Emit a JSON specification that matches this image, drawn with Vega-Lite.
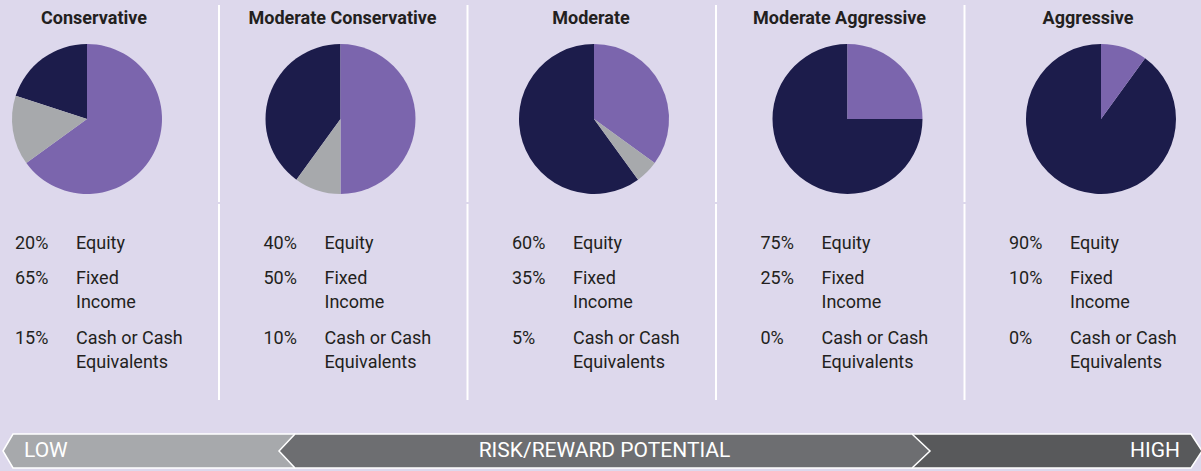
{
  "$schema": "https://vega.github.io/schema/vega-lite/v6.json",
  "background": "#DDD8EC",
  "padding": {"left": 0, "top": 4, "right": 0, "bottom": 0},
  "config": {"view": {"stroke": null}, "font": "Roboto"},
  "datasets": {
    "alloc": [
      {"profile": "Conservative", "asset": "Equity", "pct": 20},
      {"profile": "Conservative", "asset": "Fixed Income", "pct": 65},
      {"profile": "Conservative", "asset": "Cash or Cash Equivalents", "pct": 15},
      {"profile": "Moderate Conservative", "asset": "Equity", "pct": 40},
      {"profile": "Moderate Conservative", "asset": "Fixed Income", "pct": 50},
      {"profile": "Moderate Conservative", "asset": "Cash or Cash Equivalents", "pct": 10},
      {"profile": "Moderate", "asset": "Equity", "pct": 60},
      {"profile": "Moderate", "asset": "Fixed Income", "pct": 35},
      {"profile": "Moderate", "asset": "Cash or Cash Equivalents", "pct": 5},
      {"profile": "Moderate Aggressive", "asset": "Equity", "pct": 75},
      {"profile": "Moderate Aggressive", "asset": "Fixed Income", "pct": 25},
      {"profile": "Moderate Aggressive", "asset": "Cash or Cash Equivalents", "pct": 0},
      {"profile": "Aggressive", "asset": "Equity", "pct": 90},
      {"profile": "Aggressive", "asset": "Fixed Income", "pct": 10},
      {"profile": "Aggressive", "asset": "Cash or Cash Equivalents", "pct": 0}
    ],
    "banner": [
      {"segment": "LOW"},
      {"segment": "HIGH"},
      {"segment": "RISK/REWARD POTENTIAL"}
    ]
  },
  "spacing": 30,
  "vconcat": [
    {
      "spacing": 0,
      "vconcat": [
        {
          "data": {"name": "alloc"},
          "transform": [
            {"calculate": "indexof(['Fixed Income','Cash or Cash Equivalents','Equity'], datum.asset)", "as": "sliceOrder"}
          ],
          "facet": {
            "column": {
              "field": "profile", "type": "nominal",
              "sort": ["Conservative", "Moderate Conservative", "Moderate", "Moderate Aggressive", "Aggressive"],
              "header": {"title": null, "labelFontSize": 18, "labelFontWeight": "bold", "labelColor": "#231F20", "labelFont": "Roboto", "labelPadding": 8}
            }
          },
          "spacing": 64.5,
          "bounds": "flush",
          "spec": {
            "width": 184,
            "height": 166,
            "layer": [
              {
                "transform": [{"filter": "datum.asset == 'Equity' && datum.profile != 'Aggressive'"}],
                "mark": {"type": "rule", "color": "white", "strokeWidth": 2, "xOffset": 33, "yOffset": -31},
                "encoding": {"x": {"value": "width"}, "y": {"value": 0}, "y2": {"value": "height"}}
              },
              {
                "mark": {"type": "arc", "radius": 75},
                "encoding": {
                  "x": {
                    "field": "profile", "type": "nominal",
                    "scale": {"type": "point", "domain": ["Conservative", "Moderate Conservative", "Moderate", "Moderate Aggressive", "Aggressive"], "range": [85, 105], "padding": 0},
                    "axis": null
                  },
                  "theta": {"field": "pct", "type": "quantitative", "stack": true},
                  "order": {"field": "sliceOrder", "type": "quantitative"},
                  "color": {
                    "field": "asset", "type": "nominal",
                    "scale": {"domain": ["Fixed Income", "Cash or Cash Equivalents", "Equity"], "range": ["#7B65AD", "#A7A9AC", "#1C1C4B"]},
                    "legend": null
                  }
                }
              }
            ]
          }
        },
        {
          "data": {"name": "alloc"},
          "transform": [
            {"calculate": "datum.asset == 'Equity' ? ['Equity'] : datum.asset == 'Fixed Income' ? ['Fixed', 'Income'] : ['Cash or Cash', 'Equivalents']", "as": "label"},
            {"calculate": "datum.pct + '%'", "as": "pctText"}
          ],
          "facet": {
            "column": {
              "field": "profile", "type": "nominal",
              "sort": ["Conservative", "Moderate Conservative", "Moderate", "Moderate Aggressive", "Aggressive"],
              "header": {"title": null, "labels": false}
            }
          },
          "spacing": 64.5,
          "bounds": "flush",
          "spec": {
            "width": 184,
            "height": 196,
            "encoding": {
              "y": {"field": "asset", "type": "nominal", "scale": {"type": "point", "domain": ["Equity", "Fixed Income", "Cash or Cash Equivalents"], "range": [49, 144], "padding": 0}, "axis": null}
            },
            "layer": [
              {
                "transform": [{"filter": "datum.asset == 'Equity' && datum.profile != 'Aggressive'"}],
                "mark": {"type": "rule", "color": "white", "strokeWidth": 2, "xOffset": 33},
                "encoding": {"x": {"value": "width"}, "y": {"value": 0}, "y2": {"value": "height"}}
              },
              {
                "transform": [{"filter": "datum.asset != 'Fixed Income'"}],
                "mark": {"type": "text", "align": "left", "baseline": "bottom", "fontSize": 18, "lineHeight": 24, "color": "#231F20"},
                "encoding": {
                  "x": {"datum": "pct", "type": "nominal", "scale": {"type": "point", "domain": ["pct", "label"], "range": [13, 74], "padding": 0}, "axis": null},
                  "text": {"field": "pctText"}
                }
              },
              {
                "transform": [{"filter": "datum.asset != 'Fixed Income'"}],
                "mark": {"type": "text", "align": "left", "baseline": "bottom", "fontSize": 18, "lineHeight": 24, "color": "#231F20"},
                "encoding": {
                  "x": {"datum": "label", "type": "nominal", "scale": {"type": "point", "domain": ["pct", "label"], "range": [13, 74], "padding": 0}, "axis": null},
                  "text": {"field": "label"}
                }
              },
              {
                "transform": [{"filter": "datum.asset == 'Fixed Income'"}],
                "mark": {"type": "text", "align": "left", "baseline": "bottom", "fontSize": 18, "lineHeight": 24, "color": "#231F20", "yOffset": -12.5},
                "encoding": {
                  "x": {"datum": "pct", "type": "nominal", "scale": {"type": "point", "domain": ["pct", "label"], "range": [13, 74], "padding": 0}, "axis": null},
                  "text": {"field": "pctText"}
                }
              },
              {
                "transform": [{"filter": "datum.asset == 'Fixed Income'"}],
                "mark": {"type": "text", "align": "left", "baseline": "bottom", "fontSize": 18, "lineHeight": 24, "color": "#231F20", "yOffset": -12.5},
                "encoding": {
                  "x": {"datum": "label", "type": "nominal", "scale": {"type": "point", "domain": ["pct", "label"], "range": [13, 74], "padding": 0}, "axis": null},
                  "text": {"field": "label"}
                }
              }
            ]
          }
        }
      ]
    },
    {
      "data": {"name": "banner"},
      "width": 1201,
      "height": 36,
      "encoding": {
        "x": {"field": "segment", "type": "nominal", "scale": {"type": "point", "domain": ["LOW", "RISK/REWARD POTENTIAL", "HIGH"], "padding": 0}, "axis": null}
      },
      "layer": [
        {
          "mark": {"type": "point", "filled": true, "opacity": 1, "size": 4, "stroke": "white", "strokeWidth": 1.5, "strokeOpacity": 1},
          "encoding": {
            "shape": {
              "field": "segment", "type": "nominal",
              "scale": {
                "domain": ["LOW", "RISK/REWARD POTENTIAL", "HIGH"],
                "range": [
                  "M1,0L11,-17L293,-17L293,17L11,17Z",
                  "M-323.5,0L-307.5,-17L309.5,-17L327.5,0L309.5,17L-307.5,17Z",
                  "M-291,-17L-12,-17L-1,0L-12,17L-291,17Z"
                ]
              },
              "legend": null
            },
            "fill": {
              "field": "segment", "type": "nominal",
              "scale": {"domain": ["LOW", "RISK/REWARD POTENTIAL", "HIGH"], "range": ["#A7A9AC", "#6D6E71", "#58595B"]},
              "legend": null
            }
          }
        },
        {
          "transform": [{"filter": "datum.segment == 'LOW'"}],
          "mark": {"type": "text", "align": "left", "baseline": "middle", "dx": 22, "fontSize": 21, "color": "white"},
          "encoding": {"text": {"field": "segment"}}
        },
        {
          "transform": [{"filter": "datum.segment == 'RISK/REWARD POTENTIAL'"}],
          "mark": {"type": "text", "align": "center", "baseline": "middle", "dx": 2, "fontSize": 21, "color": "white"},
          "encoding": {"text": {"field": "segment"}}
        },
        {
          "transform": [{"filter": "datum.segment == 'HIGH'"}],
          "mark": {"type": "text", "align": "right", "baseline": "middle", "dx": -23, "fontSize": 21, "color": "white"},
          "encoding": {"text": {"field": "segment"}}
        }
      ]
    }
  ]
}
